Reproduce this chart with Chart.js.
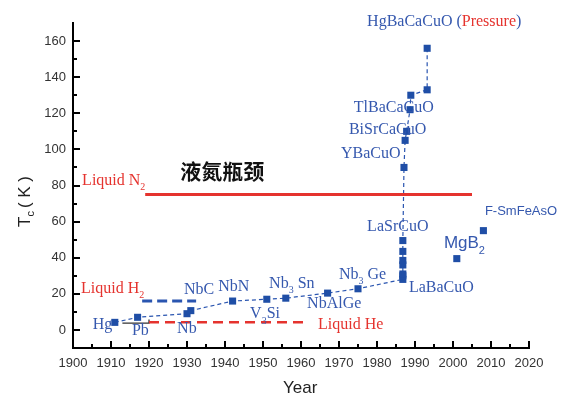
<!DOCTYPE html>
<html><head><meta charset="utf-8">
<script src="https://cdn.jsdelivr.net/npm/chart.js@4"></script>
<style>html,body{margin:0;padding:0;background:#fff}canvas{display:block}</style>
</head><body>
<canvas id="c" width="568" height="400"></canvas>
<script>
// ---- data ----
const mainYears = [1911,1917,1930,1931,1942,1951,1956,1967,1975,1986.8,1986.8,1986.8,1986.8,1986.8,1986.8,1986.8,1987.1,1987.4,1987.8,1988.7,1988.9,1993.2,1993.2];
const mainTc    = [4.2,7,9,10.7,16,17,17.6,20.4,22.8,28,30,31,36,38.5,43.5,49.5,90,105,110,122,130,133,156];
const otherYears = [2001,2008];
const otherTc    = [39.5,55];
const n2Years = [1919,2005];   const n2Tc = [75,75];
const heYears = [1920,1962];   const heTc = [4.2,4.2];
const h2Years = [1918.2,1932.4]; const h2Tc = [16,16];
const bracketYears = [1913,1920,1920]; const bracketTc = [3.8,3.8,5.8];
const xTicks = [1900,1910,1920,1930,1940,1950,1960,1970,1980,1990,2000,2010,2020];
const yTicks = [0,20,40,60,80,100,120,140,160];

const BLUE_T = '#3558ae', BLUE_M = '#1f4ea6', RED = '#e5332e';

// text annotations anchored in data coordinates (year, Tc)
const notes = [
  {x:1902.4,y:82.8,parts:[['Liquid N',RED],['2',RED,1]]},
  {x:1902.1,y:22.8,parts:[['Liquid H',RED],['2',RED,1]]},
  {x:1964.5,y:2.8,parts:[['Liquid He',RED]]},
  {x:1977.4,y:170.6,parts:[['HgBaCaCuO (',BLUE_T],['Pressure',RED],[')',BLUE_T]]},
  {x:1973.9,y:122.8,parts:[['TlBaCaCuO',BLUE_T]]},
  {x:1972.6,y:110.6,parts:[['BiSrCaCuO',BLUE_T]]},
  {x:1970.5,y:97.8,parts:[['YBaCuO',BLUE_T]]},
  {x:1977.4,y:57.2,parts:[['LaSrCuO',BLUE_T]]},
  {x:1988.4,y:23.3,parts:[['LaBaCuO',BLUE_T]]},
  {x:1970,y:30.6,parts:[['Nb',BLUE_T],['3',BLUE_T,1],[' Ge',BLUE_T]]},
  {x:1961.6,y:14.4,parts:[['NbAlGe',BLUE_T]]},
  {x:1951.6,y:25.6,parts:[['Nb',BLUE_T],['3',BLUE_T,1],[' Sn',BLUE_T]]},
  {x:1946.6,y:8.8,parts:[['V',BLUE_T],['3',BLUE_T,1],['Si',BLUE_T]]},
  {x:1938.2,y:23.9,parts:[['NbN',BLUE_T]]},
  {x:1929.2,y:22.2,parts:[['NbC',BLUE_T]]},
  {x:1905.2,y:2.8,parts:[['Hg',BLUE_T]]},
  {x:1915.5,y:-0.6,parts:[['Pb',BLUE_T]]},
  {x:1927.4,y:0.6,parts:[['Nb',BLUE_T]]},
  {x:1997.6,y:47.8,sans:17,parts:[['MgB',BLUE_T],['2',BLUE_T,1]]},
  {x:2008.4,y:65.4,sans:13,parts:[['F-SmFeAsO',BLUE_T]]},
  {x:1928.2,y:88,cjk:true,parts:[['液氮瓶颈','#111']]}
];

const pts = (xs, ys) => xs.map((x,i)=>({x, y: ys[i]}));

const overlay = {
  id:'overlay',
  afterDatasetsDraw(chart){
    const ctx = chart.ctx, xs = chart.scales.x, ys = chart.scales.y;
    const a = chart.chartArea;
    ctx.save();
    // inward ticks
    ctx.strokeStyle = '#000'; ctx.lineWidth = 2;
    ctx.beginPath();
    for (let v = 1900; v <= 2020; v += 5) {
      const px = Math.round(xs.getPixelForValue(v));
      const len = (v % 10 === 0) ? 7 : 4;
      ctx.moveTo(px, a.bottom); ctx.lineTo(px, a.bottom - len);
    }
    for (let v = 0; v <= 160; v += 10) {
      const py = Math.round(ys.getPixelForValue(v));
      const len = (v % 20 === 0) ? 7 : 4;
      ctx.moveTo(a.left, py); ctx.lineTo(a.left + len, py);
    }
    ctx.stroke();
    // annotations
    ctx.textBaseline = 'middle'; ctx.textAlign = 'left';
    for (const n of notes) {
      let px = xs.getPixelForValue(n.x), py = ys.getPixelForValue(n.y);
      for (const [t, col, sub] of n.parts) {
        let size;
        if (n.cjk) { ctx.font = 'bold 21px "Noto Sans CJK SC"'; size = 21; }
        else if (n.sans) { size = sub ? Math.round(n.sans*0.65) : n.sans; ctx.font = size + 'px "Liberation Sans"'; }
        else { size = sub ? 10 : 16; ctx.font = size + 'px "Liberation Serif"'; }
        ctx.fillStyle = col;
        ctx.fillText(t, px, py + (sub ? 7 : 0));
        px += ctx.measureText(t).width;
      }
    }
    // axis titles
    ctx.fillStyle = '#222';
    ctx.font = '17px "Liberation Sans"';
    ctx.fillText('Year', 283, 388);
    ctx.translate(25, 227); ctx.rotate(-Math.PI/2);
    let p = 0;
    ctx.fillText('T', p, 0); p += ctx.measureText('T').width;
    ctx.font = '11px "Liberation Sans"'; ctx.fillText('c', p, 6); p += ctx.measureText('c').width + 3;
    ctx.font = '17px "Liberation Sans"'; ctx.fillText('( K )', p, 0);
    ctx.restore();
  }
};

new Chart(document.getElementById('c'), {
  type:'scatter',
  data:{ datasets:[
    {data:pts(n2Years,n2Tc), showLine:true, borderColor:RED, borderWidth:3, pointRadius:0},
    {data:pts(heYears,heTc), showLine:true, borderColor:RED, borderWidth:2.5, borderDash:[10,6], pointRadius:0},
    {data:pts(h2Years,h2Tc), showLine:true, borderColor:'#2a55b0', borderWidth:3, borderDash:[10,5], pointRadius:0},
    {data:pts(bracketYears,bracketTc), showLine:true, borderColor:'#333', borderWidth:1.3, pointRadius:0},
    {data:pts(mainYears,mainTc), showLine:true, borderColor:'#2a55b0', borderWidth:1.2, borderDash:[4,3],
      pointStyle:'rect', pointRadius:5, pointBackgroundColor:BLUE_M, pointBorderWidth:0},
    {data:pts(otherYears,otherTc), showLine:false,
      pointStyle:'rect', pointRadius:5, pointBackgroundColor:BLUE_M, pointBorderWidth:0}
  ]},
  options:{
    responsive:false, animation:false,
    layout:{padding:{left:0,right:39,top:23,bottom:0}},
    plugins:{legend:{display:false}, tooltip:{enabled:false}},
    scales:{
      x:{type:'linear', min:1900, max:2020,
        afterFit(s){ s.height = 52; },
        afterBuildTicks(s){ s.ticks = xTicks.map(v=>({value:v})); },
        grid:{display:false, drawTicks:false},
        border:{display:true, color:'#000', width:2},
        ticks:{padding:8, color:'#333', font:{family:'Liberation Sans', size:13}, callback:v=>String(v), maxRotation:0, autoSkip:false}
      },
      y:{type:'linear', min:-10, max:170,
        afterFit(s){ s.width = 73; },
        afterBuildTicks(s){ s.ticks = yTicks.map(v=>({value:v})); },
        grid:{display:false, drawTicks:false},
        border:{display:true, color:'#000', width:2},
        ticks:{padding:7, color:'#333', font:{family:'Liberation Sans', size:13}, callback:v=>String(v)}
      }
    }
  },
  plugins:[overlay]
});
</script>
</body></html>
